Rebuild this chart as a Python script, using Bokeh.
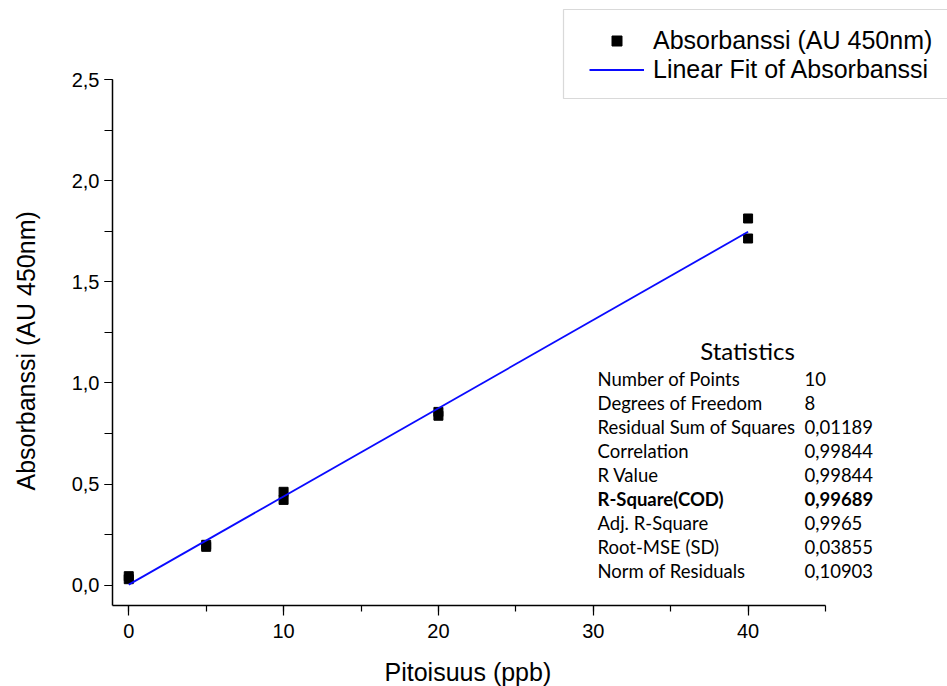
import numpy as np
from bokeh.plotting import figure
from bokeh.models import (Legend, LegendItem, Label, SingleIntervalTicker,
                          CustomJSTickFormatter, Range1d, BoxAnnotation, Title)
from bokeh.embed import file_html
from bokeh.resources import INLINE

# ---- data ----
conc = [0, 0, 5, 5, 10, 10, 20, 20, 40, 40]
absorb = [0.045, 0.03, 0.19, 0.20, 0.462, 0.422, 0.857, 0.838, 1.813, 1.714]

stat_title = "Statistics"
stat_names = ["Number of Points", "Degrees of Freedom", "Residual Sum of Squares",
              "Correlation", "R Value", "R-Square(COD)", "Adj. R-Square",
              "Root-MSE (SD)", "Norm of Residuals"]
stat_values = ["10", "8", "0,01189", "0,99844", "0,99844", "0,99689",
               "0,9965", "0,03855", "0,10903"]
bold_row = "R-Square(COD)"

x_label = "Pitoisuus (ppb)"
y_label = "Absorbanssi (AU 450nm)"
legend_labels = ["Absorbanssi (AU 450nm)", "Linear Fit of Absorbanssi"]

# axis extents
x_lo, x_hi = -1.05, 45
y_lo, y_hi = -0.1, 2.5

# linear fit
slope, intercept = np.polyfit(conc, absorb, 1)
fit_x = [min(conc), max(conc)]
fit_y = [intercept + slope * v for v in fit_x]

FONT = "Liberation Sans"
STAT_FONT = "Lato"

# frame spans to the window's right/top edges; axes limited by bounds
W, H = 947, 686
left_b, bottom_b = 112, 81
frame_w = W - left_b
frame_h = H - bottom_b
x_px_per_unit = (825 - left_b) / (x_hi - x_lo)
y_px_per_unit = (605 - 79) / (y_hi - y_lo)
x_end = x_lo + frame_w / x_px_per_unit
y_end = y_lo + frame_h / y_px_per_unit

p = figure(width=W, height=H, output_backend="svg", toolbar_location=None,
           x_range=Range1d(x_lo, x_end), y_range=Range1d(y_lo, y_end),
           min_border_left=left_b, min_border_right=0, min_border_top=0,
           min_border_bottom=bottom_b)
p.outline_line_color = None
p.xgrid.visible = False
p.ygrid.visible = False
p.background_fill_color = "white"
p.border_fill_color = "white"

sc = p.scatter(conc, absorb, marker="square", size=9, color="black")
ln = p.line(fit_x, fit_y, line_color="#0a0aff", line_width=1.8)

# axes
p.xaxis.ticker = SingleIntervalTicker(interval=10, num_minor_ticks=2)
p.yaxis.ticker = SingleIntervalTicker(interval=0.5, num_minor_ticks=2)
p.xaxis.bounds = (x_lo, x_hi)
p.yaxis.bounds = (y_lo, y_hi)
p.yaxis.formatter = CustomJSTickFormatter(code="return tick.toFixed(1).replace('.', ',');")
for ax in (p.xaxis[0], p.yaxis[0]):
    ax.axis_line_color = "black"
    ax.axis_line_width = 1.5
    ax.major_tick_line_color = "black"
    ax.minor_tick_line_color = "black"
    ax.major_tick_line_width = 1.2
    ax.minor_tick_line_width = 1.2
    ax.major_tick_in = 0
    ax.minor_tick_in = 0
    ax.major_label_text_font = FONT
    ax.major_label_text_font_size = "20px"
    ax.major_label_text_color = "black"
    # blank axis label used only as spacing before the axis title
    ax.axis_label = " "
    ax.axis_label_text_font_size = "6px"
p.xaxis.major_tick_out = 10
p.xaxis.minor_tick_out = 6
p.yaxis.major_tick_out = 8
p.yaxis.minor_tick_out = 8
p.xaxis.major_label_standoff = 8
p.yaxis.major_label_standoff = 5
p.xaxis.axis_label_standoff = 6
p.yaxis.axis_label_standoff = 18

# axis titles, positioned along the bounded axes (not the wider frame)
p.add_layout(Title(text=x_label, align="left", offset=272, standoff=0,
                   text_font=FONT, text_font_size="25px", text_font_style="normal",
                   text_color="black"), "below")
p.add_layout(Title(text=y_label, align="left", offset=115, standoff=4,
                   text_font=FONT, text_font_size="25px", text_font_style="normal",
                   text_color="black"), "left")

# legend frame (screen offsets from frame bottom-left)
p.add_layout(BoxAnnotation(left=451, right=900, bottom=507, top=596,
                           left_units="screen", right_units="screen",
                           bottom_units="screen", top_units="screen",
                           fill_color="white", fill_alpha=1,
                           line_color="#808080", line_width=1.2))
legend = Legend(items=[LegendItem(label=legend_labels[0], renderers=[sc]),
                       LegendItem(label=legend_labels[1], renderers=[ln])],
                location=(477, 521), margin=0, padding=0, spacing=0,
                glyph_width=55, glyph_height=25, label_height=28,
                label_standoff=9, label_text_font=FONT,
                label_text_font_size="25px", label_text_color="black",
                border_line_color=None, background_fill_alpha=0)
p.add_layout(legend, "center")

# statistics table (screen offsets relative to frame bottom-left)
p.add_layout(Label(x=635, y=255, x_units="screen", y_units="screen",
                   text=stat_title, text_align="center", text_baseline="middle",
                   text_font=STAT_FONT, text_font_size="24px", text_color="black"))
for i, (nm, val) in enumerate(zip(stat_names, stat_values)):
    yy = 227 - 24 * i
    style = "bold" if nm == bold_row else "normal"
    p.add_layout(Label(x=485, y=yy, x_units="screen", y_units="screen", text=nm,
                       text_baseline="middle", text_font=STAT_FONT,
                       text_font_size="18.5px", text_font_style=style, text_color="black"))
    p.add_layout(Label(x=692, y=yy, x_units="screen", y_units="screen", text=val,
                       text_baseline="middle", text_font=STAT_FONT,
                       text_font_size="18.5px", text_font_style=style, text_color="black"))

open("out.html", "w").write(file_html(p, INLINE))
